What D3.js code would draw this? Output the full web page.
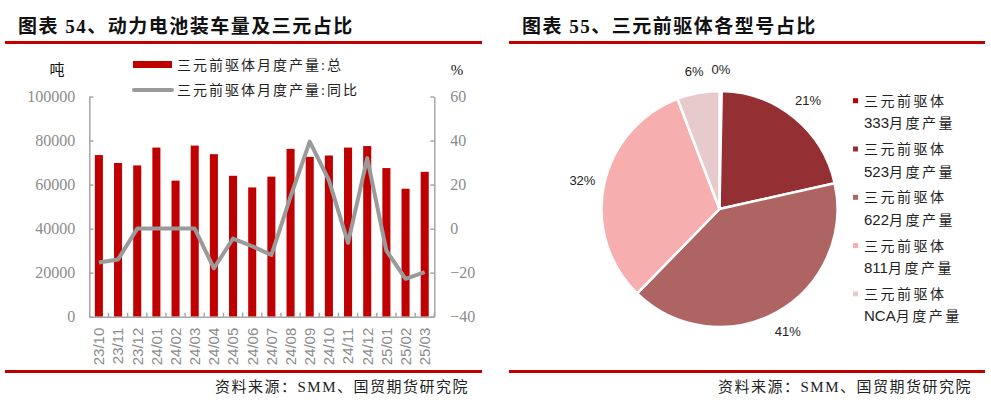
<!DOCTYPE html>
<html>
<head>
<meta charset="utf-8">
<script src="https://cdn.jsdelivr.net/npm/d3@7/dist/d3.min.js"></script>
<style>
  body { margin: 0; background: #fff; }
</style>
</head>
<body>
<svg id="chart" width="991" height="402"></svg>
<script>
// data
const months = ['23/10', '23/11', '23/12', '24/01', '24/02', '24/03', '24/04', '24/05', '24/06',
  '24/07', '24/08', '24/09', '24/10', '24/11', '24/12', '25/01', '25/02', '25/03'];
const totalOutput = [73400, 69800, 68700, 76800, 61800, 77700, 73800, 64000, 58700,
  63600, 76200, 72600, 73200, 76800, 77500, 67500, 58100, 65800];
const yoyChange = [-15.4, -14, 0, 0, 0, 0, -18, -4.5, -8,
  -12, 14.5, 39.5, 22, -6.5, 32, -10, -22.8, -19.8];
const leftTicks = [0, 20000, 40000, 60000, 80000, 100000];
const rightTicks = [-40, -20, 0, 20, 40, 60];

const pieTypes = ['333', '523', '622', '811', 'NCA'];
const pieShares = [0.3, 21.2, 40.8, 31.9, 5.8];
const pieLabels = ['0%', '21%', '41%', '32%', '6%'];

const RED = '#c00000';
const GREY_AXIS = '#a6a6a6';
const GREY_TEXT = '#8c8c8c';
const pieColors = ['#c00000', '#943033', '#ad6462', '#f7aeae', '#e7cacc'];

const SERIF = '"Liberation Serif", "Noto Sans CJK SC", serif';
const SANS = '"Liberation Sans", Arial, "Noto Sans CJK SC", sans-serif';
const NARROW = '"Liberation Sans Narrow", "Liberation Sans", sans-serif';

const svg = d3.select('#chart').style('font-family', SERIF);

// ---------- frames: titles, red rules, sources ----------
const panels = [
  { x0: 5, x1: 482, tx: 18, title: '图表 54、动力电池装车量及三元占比' },
  { x0: 509, x1: 985, tx: 522, title: '图表 55、三元前驱体各型号占比' }
];
panels.forEach((p) => {
  svg.append('text')
    .attr('x', p.tx).attr('y', 33)
    .attr('font-size', 19).attr('font-weight', 'bold')
    .attr('letter-spacing', 1.5)
    .attr('fill', '#111')
    .text(p.title);
  svg.append('rect').attr('x', p.x0).attr('y', 41).attr('width', p.x1 - p.x0).attr('height', 3).attr('fill', RED);
  svg.append('rect').attr('x', p.x0).attr('y', 370).attr('width', p.x1 - p.x0).attr('height', 3).attr('fill', RED);
  svg.append('text')
    .attr('x', p.x1 - 13).attr('y', 392)
    .attr('text-anchor', 'end')
    .attr('font-size', 15)
    .attr('letter-spacing', 1.5)
    .attr('fill', '#222')
    .text('资料来源：SMM、国贸期货研究院');
});

// ---------- left: bars + line ----------
const plot = { left: 89.3, right: 434.3, top: 96.5, bottom: 316.7 };

const x = d3.scaleBand()
  .domain(months)
  .range([plot.left, plot.right])
  .paddingInner(0.58)
  .paddingOuter(0.29);

const yLeft = d3.scaleLinear().domain([0, 100000]).range([plot.bottom, plot.top]);
const yRight = d3.scaleLinear().domain([-40, 60]).range([plot.bottom, plot.top]);

const left = svg.append('g');

left.selectAll('.bar')
  .data(totalOutput)
  .enter()
  .append('rect')
    .attr('class', 'bar')
    .attr('x', (d, i) => x(months[i]))
    .attr('width', x.bandwidth())
    .attr('y', (d) => yLeft(d))
    .attr('height', (d) => yLeft(0) - yLeft(d))
    .attr('fill', RED);

const line = d3.line()
  .x((d, i) => x(months[i]) + x.bandwidth() / 2)
  .y((d) => yRight(d));

left.append('path')
  .datum(yoyChange)
  .attr('d', line)
  .attr('fill', 'none')
  .attr('stroke', '#9a9a9a')
  .attr('stroke-width', 4)
  .attr('stroke-linejoin', 'round');

// y axes
const styleAxis = (g) => {
  g.selectAll('path, line').attr('stroke', GREY_AXIS).attr('stroke-width', 1.5);
  g.selectAll('text')
    .attr('fill', GREY_TEXT)
    .attr('font-size', 16)
    .style('font-family', SERIF);
};

left.append('g')
  .attr('transform', `translate(${plot.left},0)`)
  .call(d3.axisLeft(yLeft).tickValues(leftTicks).tickSize(-4).tickSizeOuter(0).tickPadding(14).tickFormat(d3.format('d')))
  .call(styleAxis);

left.append('g')
  .attr('transform', `translate(${plot.right},0)`)
  .call(d3.axisRight(yRight).tickValues(rightTicks).tickSize(-4).tickSizeOuter(0).tickPadding(16).tickFormat(d3.format('d')))
  .call(styleAxis);

// x axis: ticks sit between bars, labels rotated
const xAxis = left.append('g')
  .attr('transform', `translate(0,${plot.bottom})`)
  .call(d3.axisBottom(x).tickSize(0).tickSizeOuter(0).tickPadding(0));
xAxis.select('.domain').attr('stroke', GREY_AXIS).attr('stroke-width', 1.5);
xAxis.selectAll('.tick text')
  .style('font-family', SANS)
  .attr('font-size', 15)
  .attr('fill', GREY_TEXT)
  .attr('text-anchor', 'end')
  .attr('transform', 'translate(0,11)rotate(-90)')
  .attr('x', 0)
  .attr('y', 0)
  .attr('dy', '0.36em');
xAxis.selectAll('.tick')
  .append('line')
    .attr('x1', x.step() / 2).attr('x2', x.step() / 2)
    .attr('y1', 0).attr('y2', -4)
    .attr('stroke', GREY_AXIS)
    .attr('stroke-width', 1.5);

// units
left.append('text').attr('x', 57).attr('y', 70).attr('dy', '0.35em')
  .attr('text-anchor', 'middle').attr('font-size', 15).attr('fill', '#111').text('吨');
left.append('text').attr('x', 457).attr('y', 70).attr('dy', '0.35em')
  .attr('text-anchor', 'middle').attr('font-size', 15).attr('fill', '#111').text('%');

// legend
left.append('rect').attr('x', 133).attr('y', 61).attr('width', 39).attr('height', 7).attr('fill', RED);
left.append('line').attr('x1', 134).attr('x2', 172).attr('y1', 90).attr('y2', 90)
  .attr('stroke', '#9a9a9a').attr('stroke-width', 4).attr('stroke-linecap', 'round');
[['三元前驱体月度产量:总', 65], ['三元前驱体月度产量:同比', 90]].forEach(([t, ly]) => {
  left.append('text')
    .attr('x', 177).attr('y', ly).attr('dy', '0.35em')
    .attr('font-size', 14).attr('letter-spacing', 2)
    .attr('fill', '#222')
    .text(t);
});

// ---------- right: pie ----------
const cx = 719.5, cy = 209, r = 118;
const right = svg.append('g').attr('transform', `translate(${cx},${cy})`);

const pie = d3.pie().sort(null).value((d) => d);
const arcs = pie(pieShares);
const arc = d3.arc().innerRadius(0).outerRadius(r);
const labelArc = d3.arc().innerRadius(r + 22).outerRadius(r + 22);

right.selectAll('.slice')
  .data(arcs)
  .enter()
  .append('path')
    .attr('class', 'slice')
    .attr('d', arc)
    .attr('fill', (d, i) => pieColors[i])
    .attr('stroke', '#fff')
    .attr('stroke-width', 2.5);

right.selectAll('.plabel')
  .data(arcs)
  .enter()
  .append('text')
    .attr('class', 'plabel')
    .attr('transform', (d) => `translate(${labelArc.centroid(d)})`)
    .attr('text-anchor', 'middle')
    .attr('dy', '0.35em')
    .style('font-family', SANS)
    .attr('font-size', 13)
    .attr('fill', '#222')
    .text((d, i) => pieLabels[i]);

// pie legend
const legend = svg.append('g');
pieTypes.forEach((t, i) => {
  const ly = 100.7 + i * 48.3;
  legend.append('rect').attr('x', 853).attr('y', ly - 2.5).attr('width', 5).attr('height', 5).attr('fill', pieColors[i]);
  legend.append('text')
    .attr('x', 864).attr('y', ly).attr('dy', '0.35em')
    .attr('font-size', 14).attr('letter-spacing', 2.5).attr('fill', '#222')
    .text('三元前驱体');
  const t2 = legend.append('text')
    .attr('x', 864).attr('y', ly + 22.6).attr('dy', '0.35em')
    .attr('font-size', 14).attr('fill', '#222');
  t2.append('tspan')
    .style('font-family', NARROW)
    .attr('font-size', 15)
    .text(t);
  t2.append('tspan').attr('letter-spacing', 2.5).text('月度产量');
});
</script>
</body>
</html>
